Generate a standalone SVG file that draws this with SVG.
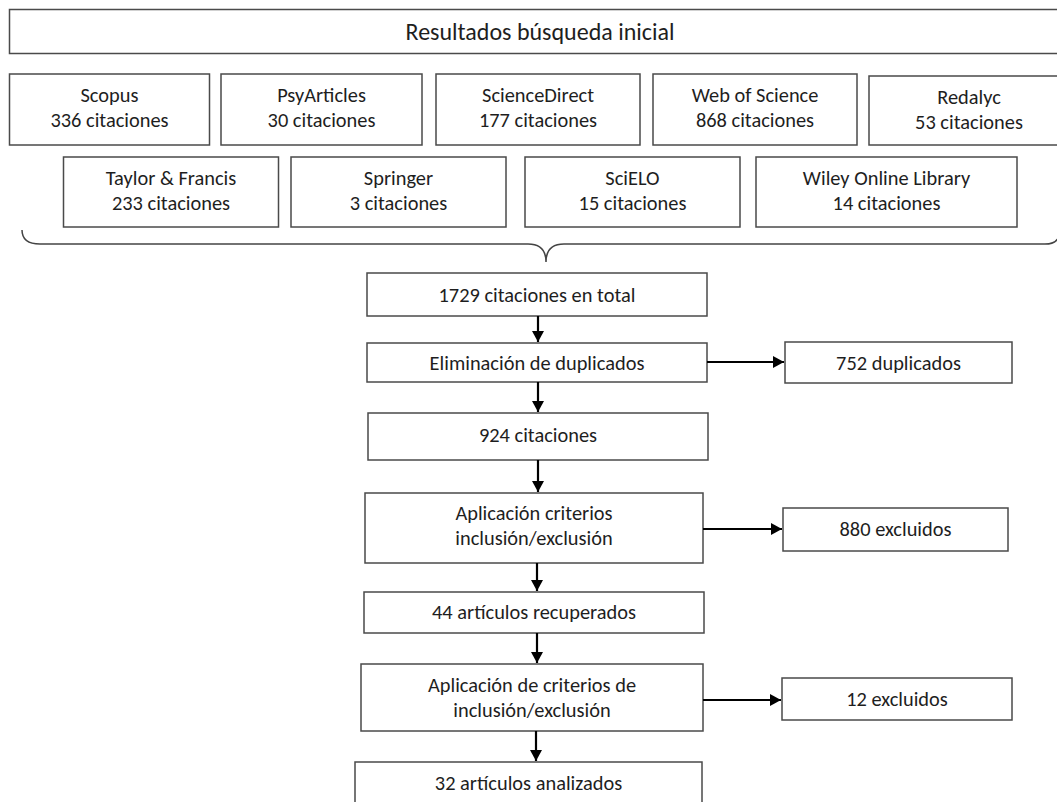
<svg xmlns="http://www.w3.org/2000/svg" width="1057" height="802" viewBox="0 0 1057 802">
<defs>
<style>
.box{fill:#fff;stroke:#4a4a4a;stroke-width:1.5}
.t{font-family:Carlito,Calibri,Lato,sans-serif;font-size:20.4px;fill:#1e1e1e;text-anchor:middle}
.title{font-size:24px}
.conn{stroke:#000;stroke-width:2.2;fill:none}
.brace{stroke:#444;stroke-width:1.5;fill:none}
</style>
<marker id="ah" markerUnits="userSpaceOnUse" markerWidth="12" markerHeight="12" refX="11" refY="6" orient="auto">
<path d="M0,0 L11,6 L0,12 z" fill="#000"/>
</marker>
</defs>
<rect width="1057" height="802" fill="#fff"/>

<g id="title">
<rect class="box" x="9.5" y="9.5" width="1050" height="44"/>
<text class="t title" x="540" y="40">Resultados búsqueda inicial</text>
</g>

<g id="scopus">
<rect class="box" x="9.5" y="74" width="200" height="71"/>
<text class="t" x="109.5" y="101.5">Scopus</text>
<text class="t" x="109.5" y="126.5">336 citaciones</text>
</g>
<g id="psyarticles">
<rect class="box" x="221" y="74" width="201" height="71"/>
<text class="t" x="321.5" y="101.5">PsyArticles</text>
<text class="t" x="321.5" y="126.5">30 citaciones</text>
</g>
<g id="sciencedirect">
<rect class="box" x="436" y="74" width="204" height="71"/>
<text class="t" x="538" y="101.5">ScienceDirect</text>
<text class="t" x="538" y="126.5">177 citaciones</text>
</g>
<g id="wos">
<rect class="box" x="653" y="74" width="204" height="71"/>
<text class="t" x="755" y="101.5">Web of Science</text>
<text class="t" x="755" y="126.5">868 citaciones</text>
</g>
<g id="redalyc">
<rect class="box" x="869" y="76" width="200" height="69"/>
<text class="t" x="969" y="103.5">Redalyc</text>
<text class="t" x="969" y="128.5">53 citaciones</text>
</g>

<g id="taylor">
<rect class="box" x="63.5" y="157" width="215" height="70"/>
<text class="t" x="171" y="184.5">Taylor &amp; Francis</text>
<text class="t" x="171" y="209.5">233 citaciones</text>
</g>
<g id="springer">
<rect class="box" x="291" y="157" width="215" height="70"/>
<text class="t" x="398.5" y="184.5">Springer</text>
<text class="t" x="398.5" y="209.5">3 citaciones</text>
</g>
<g id="scielo">
<rect class="box" x="525" y="157" width="215" height="70"/>
<text class="t" x="632.5" y="184.5">SciELO</text>
<text class="t" x="632.5" y="209.5">15 citaciones</text>
</g>
<g id="wiley">
<rect class="box" x="756" y="157" width="261" height="70"/>
<text class="t" x="886.5" y="184.5">Wiley Online Library</text>
<text class="t" x="886.5" y="209.5">14 citaciones</text>
</g>

<g id="brace">
<path class="brace" d="M22,230 Q22,244 40,244 L528,244 Q546,244 546,262 Q546,244 564,244 L1045,244 Q1060,244 1060,230"/>
</g>

<g id="total">
<rect class="box" x="367" y="273" width="340" height="43"/>
<text class="t" x="537" y="301.5">1729 citaciones en total</text>
</g>
<g id="eliminacion">
<rect class="box" x="367" y="343" width="340" height="39"/>
<text class="t" x="537" y="370">Eliminación de duplicados</text>
</g>
<g id="duplicados">
<rect class="box" x="785" y="342" width="227" height="41"/>
<text class="t" x="898.5" y="369.5">752 duplicados</text>
</g>
<g id="c924">
<rect class="box" x="368" y="413" width="340" height="47"/>
<text class="t" x="538" y="442">924 citaciones</text>
</g>
<g id="aplicacion1">
<rect class="box" x="365" y="493" width="338" height="70"/>
<text class="t" x="534" y="520.3">Aplicación criterios</text>
<text class="t" x="534" y="545.3">inclusión/exclusión</text>
</g>
<g id="excluidos880">
<rect class="box" x="783" y="508" width="225" height="43"/>
<text class="t" x="895.5" y="535.5">880 excluidos</text>
</g>
<g id="recuperados">
<rect class="box" x="364" y="592" width="340" height="41"/>
<text class="t" x="534" y="619">44 artículos recuperados</text>
</g>
<g id="aplicacion2">
<rect class="box" x="361" y="664" width="342" height="67"/>
<text class="t" x="532" y="692">Aplicación de criterios de</text>
<text class="t" x="532" y="717">inclusión/exclusión</text>
</g>
<g id="excluidos12">
<rect class="box" x="782" y="678" width="230" height="42"/>
<text class="t" x="897" y="705.5">12 excluidos</text>
</g>
<g id="analizados">
<rect class="box" x="355" y="762" width="347" height="50"/>
<text class="t" x="528.5" y="789.5">32 artículos analizados</text>
</g>

<g id="connectors">
<line class="conn" x1="538" y1="316" x2="538" y2="342" marker-end="url(#ah)"/>
<line class="conn" x1="707" y1="362" x2="784" y2="362" marker-end="url(#ah)"/>
<line class="conn" x1="538" y1="382" x2="538" y2="412" marker-end="url(#ah)"/>
<line class="conn" x1="538" y1="460" x2="538" y2="492" marker-end="url(#ah)"/>
<line class="conn" x1="703" y1="529" x2="782" y2="529" marker-end="url(#ah)"/>
<line class="conn" x1="537" y1="563" x2="537" y2="591" marker-end="url(#ah)"/>
<line class="conn" x1="537" y1="633" x2="537" y2="663" marker-end="url(#ah)"/>
<line class="conn" x1="703" y1="700" x2="781" y2="700" marker-end="url(#ah)"/>
<line class="conn" x1="536" y1="731" x2="536" y2="761" marker-end="url(#ah)"/>
</g>
</svg>
